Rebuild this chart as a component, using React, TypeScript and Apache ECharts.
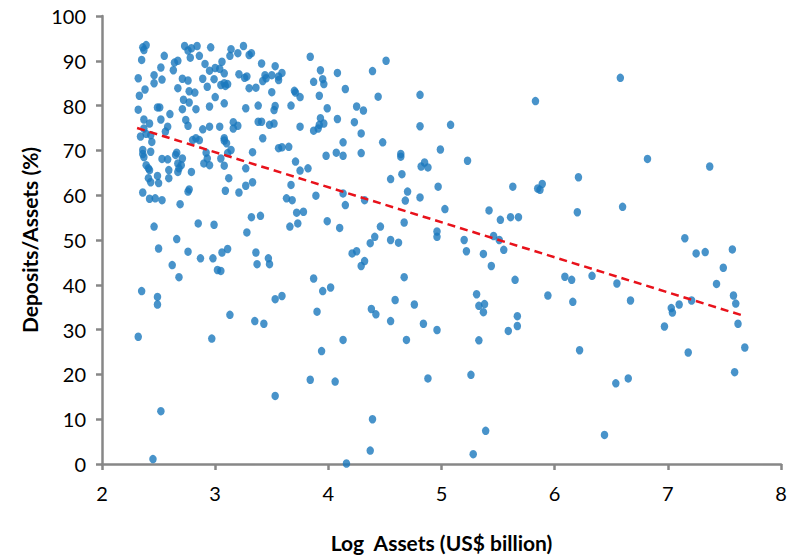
import React, { useEffect, useRef } from "react";
import * as echarts from "echarts";

const logAssets: number[] = [
  2.36, 2.39, 2.37, 2.55, 2.35, 2.73, 2.76, 2.79, 2.84, 2.78, 2.86, 2.96, 3.14, 3.13, 3.2, 2.64, 2.67, 2.91, 2.95, 3.0,
  3.06, 3.04, 3.08, 2.52, 2.46, 2.63, 2.32, 2.53, 2.71, 2.76, 2.89, 2.99, 3.05, 3.09, 3.08, 3.11, 2.46, 2.38, 2.33, 2.67,
  2.93, 2.77, 2.82, 2.72, 2.77, 3.0, 2.32, 2.49, 2.51, 2.71, 2.83, 2.95, 3.08, 2.6, 2.52, 2.37, 2.42, 2.74, 2.76, 3.04,
  3.16, 3.2, 2.58, 2.89, 2.95,
  2.37, 2.43, 2.34, 2.39, 2.44, 2.56, 3.16, 2.8, 2.83, 2.86, 3.08, 3.1, 3.08, 3.14, 3.11, 2.36, 2.36, 2.37, 2.43, 2.66,
  2.65, 2.53, 2.58, 2.39, 2.41, 2.42, 2.67, 2.71, 2.68, 2.7, 2.67, 2.59, 2.79, 2.92, 2.9, 2.93, 2.95, 3.05, 3.08, 2.41,
  2.43, 2.49, 2.5, 2.59, 3.12, 2.36, 2.76, 2.77, 3.09, 3.21, 2.42, 2.47, 2.53, 2.69, 2.46, 2.85, 2.99, 2.66,
  2.5, 2.76, 2.87, 2.98, 3.06, 3.11, 2.62, 3.02, 3.05, 2.68, 2.35, 2.49, 2.49, 3.13, 2.32, 2.97, 2.52, 2.45,
  3.25, 3.3, 3.32, 3.41, 3.53, 3.21, 3.26, 3.28, 3.44, 3.42, 3.45, 3.5, 3.56, 3.56, 3.59, 3.3, 3.36, 3.5, 3.7, 3.71,
  3.75, 3.67, 3.27, 3.38, 3.53, 3.52, 3.84, 3.93, 4.08, 3.87, 3.95, 3.96, 3.92, 4.15, 3.99, 4.39, 4.51, 4.44, 4.25, 4.31,
  4.08, 4.23, 4.29, 4.48, 3.38, 3.41, 3.48, 3.52, 3.75, 3.87, 3.91, 3.93, 3.96, 3.92, 3.42, 3.33, 3.56, 3.59, 3.65, 4.13,
  3.98, 4.07, 4.13, 4.29, 4.64, 4.64, 3.71,
  3.75, 3.82, 3.27, 3.27, 3.33, 3.67, 3.63, 3.68, 3.89, 4.13, 4.15, 4.32, 4.55, 4.65, 4.7, 4.68, 3.72, 3.78, 3.32, 3.4,
  3.66, 3.73, 3.99, 4.1, 3.28, 4.67, 4.46, 4.41, 4.37, 4.55, 4.62, 3.36, 3.37, 3.47, 3.48, 4.21, 4.25, 4.32, 4.29, 4.67,
  3.87, 3.95, 4.02, 3.53, 3.59, 4.59,
  4.38, 4.42, 3.35, 3.43, 3.9, 4.55, 4.13, 4.69, 3.94, 3.84, 4.06, 3.53, 4.39, 4.37, 4.16,
  4.81, 5.83, 4.81, 5.08, 4.99, 5.23, 4.82, 4.85, 4.88, 4.97, 4.81, 5.63, 5.85, 5.89, 5.87, 6.21, 5.03, 5.42, 5.52, 5.61,
  5.68, 6.2, 4.96, 4.96, 5.2, 5.46, 5.51,
  5.22, 5.37, 5.55, 5.44, 5.65, 6.09, 6.15, 6.33, 5.31, 5.94, 4.76, 5.33, 5.38, 5.37, 6.16, 4.84, 4.96, 5.67, 5.67, 5.59,
  5.33, 6.22, 4.88, 5.26, 5.39, 5.28,
  6.58, 6.82, 7.37, 6.6, 7.15, 7.25, 7.33, 7.57,
  7.49, 6.55, 6.67, 7.43, 7.58, 7.6, 7.03, 7.04, 7.1, 7.21, 6.97, 7.62, 7.68, 7.18, 7.59, 6.54, 6.65, 6.44,
];

const depositsPct: number[] = [
  93.0, 93.5, 92.4, 91.1, 90.2, 93.3, 92.3, 92.8, 93.3, 90.7, 91.1, 93.0, 92.6, 91.1, 91.7, 89.6, 90.0, 89.3, 87.8, 88.4,
  89.8, 88.2, 87.2, 88.5, 86.8, 87.9, 86.1, 85.8, 86.0, 85.6, 86.0, 85.9, 84.6, 84.4, 85.0, 84.8, 85.0, 83.6, 82.2, 83.9,
  84.2, 83.2, 82.9, 81.3, 80.7, 81.9, 79.1, 79.6, 79.6, 79.2, 79.2, 79.8, 80.5, 78.1, 76.9, 76.9, 76.0, 76.8, 75.5, 75.3,
  76.3, 75.5, 75.3, 74.7, 75.3,
  74.9, 73.4, 73.1, 73.7, 71.9, 74.2, 74.9, 72.3, 72.7, 72.3, 72.7, 71.6, 72.2, 70.1, 69.4, 70.1, 69.2, 68.5, 69.7, 69.5,
  69.0, 68.1, 68.0, 66.7, 66.0, 65.6, 67.1, 68.2, 66.0, 66.7, 65.2, 65.6, 65.2, 69.5, 67.1, 68.2, 66.7, 68.2, 66.6, 63.8,
  62.9, 64.3, 62.7, 63.8, 63.8, 60.6, 60.8, 61.3, 61.0, 60.6, 59.2, 59.3, 58.9, 58.0, 53.0, 53.7, 53.4, 50.2,
  48.1, 47.4, 45.9, 45.9, 47.2, 48.0, 44.4, 43.3, 43.1, 41.7, 38.6, 37.3, 35.6, 33.3, 28.4, 28.0, 11.8, 1.1,
  93.3, 91.3, 91.7, 89.4, 88.8, 87.0, 86.2, 86.5, 86.8, 85.5, 86.1, 86.8, 86.5, 85.7, 87.3, 83.9, 84.0, 83.0, 83.3, 82.9,
  81.9, 80.0, 79.4, 80.0, 79.9, 79.0, 90.9, 87.9, 87.3, 85.3, 85.9, 84.8, 82.2, 83.7, 79.4, 87.7, 90.0, 82.0, 79.8, 78.9,
  77.0, 76.3, 73.8, 71.8, 76.4, 76.4, 75.7, 76.0, 75.3, 74.4, 74.9, 77.2, 76.0, 75.7, 72.7, 69.6, 70.5, 70.7, 70.8, 71.8,
  68.8, 69.5, 68.8, 69.4, 69.2, 68.6, 67.5,
  65.5, 66.0, 66.0, 62.1, 62.9, 62.3, 59.3, 58.9, 59.9, 60.4, 57.8, 58.9, 63.6, 64.7, 60.8, 58.8, 56.1, 56.3, 55.1, 55.4,
  53.0, 53.7, 54.2, 52.7, 51.7, 53.9, 53.0, 50.7, 49.3, 50.0, 49.4, 47.2, 44.6, 45.9, 44.6, 47.0, 47.5, 45.3, 44.2, 41.7,
  41.4, 38.6, 39.4, 36.8, 37.5, 36.6,
  34.6, 33.4, 31.9, 31.3, 34.0, 31.9, 27.7, 27.7, 25.2, 18.8, 18.4, 15.2, 10.0, 3.0, 0.1,
  82.4, 81.0, 75.4, 75.7, 70.2, 67.7, 66.4, 67.3, 66.2, 61.9, 59.5, 61.9, 61.5, 62.5, 61.2, 64.0, 56.9, 56.6, 54.5, 55.1,
  55.1, 56.2, 51.9, 50.7, 50.0, 50.9, 50.0,
  47.5, 46.9, 47.8, 44.2, 41.1, 41.8, 41.1, 42.0, 37.9, 37.6, 35.6, 35.3, 35.7, 33.9, 36.2, 31.3, 29.9, 33.0, 30.8, 29.7,
  27.6, 25.4, 19.1, 19.9, 7.4, 2.2,
  86.2, 68.1, 66.4, 57.4, 50.4, 47.0, 47.3, 47.9,
  43.8, 40.3, 36.5, 40.2, 37.6, 35.8, 34.8, 33.8, 35.6, 36.5, 30.7, 31.3, 26.0, 24.9, 20.5, 18.0, 19.1, 6.5,
];

const trendX: number[] = [2.31, 7.68];
const trendY: number[] = [75.0, 33.0];

const xTicks: number[] = [2, 3, 4, 5, 6, 7, 8];
const yTicks: number[] = [0, 10, 20, 30, 40, 50, 60, 70, 80, 90, 100];

const FONT = "Lato";

export default function App() {
  const ref = useRef<HTMLDivElement>(null);

  useEffect(() => {
    if (!ref.current) return;
    const chart = echarts.init(ref.current, null, { renderer: "svg" });
    const points = logAssets.map((x, i) => [x, depositsPct[i]]);
    const trend = trendX.map((x, i) => [x, trendY[i]]);
    const axisLineStyle = { color: "#878787", width: 2.5 };
    chart.setOption({
      animation: false,
      backgroundColor: "#ffffff",
      grid: { left: 102, right: 12, top: 16, bottom: 95, containLabel: false },
      xAxis: {
        type: "value",
        min: xTicks[0],
        max: xTicks[xTicks.length - 1],
        interval: 1,
        name: "Log  Assets (US$ billion)",
        nameLocation: "middle",
        nameGap: 68,
        nameTextStyle: { fontFamily: FONT, fontSize: 21, fontWeight: "bold", color: "#000" },
        axisLine: { show: true, lineStyle: axisLineStyle },
        axisTick: { show: true, length: 6, lineStyle: axisLineStyle },
        axisLabel: { fontFamily: FONT, fontSize: 20, color: "#000", margin: 19 },
        splitLine: { show: false },
      },
      yAxis: {
        type: "value",
        min: yTicks[0],
        max: yTicks[yTicks.length - 1],
        interval: 10,
        name: "Deposits/Assets (%)",
        nameLocation: "middle",
        nameGap: 59,
        nameTextStyle: { fontFamily: FONT, fontSize: 21, fontWeight: "bold", color: "#000" },
        axisLine: { show: true, lineStyle: axisLineStyle },
        axisTick: { show: true, length: 6, lineStyle: axisLineStyle },
        axisLabel: { fontFamily: FONT, fontSize: 20, color: "#000", margin: 16 },
        splitLine: { show: false },
      },
      series: [
        {
          type: "scatter",
          data: points,
          symbol: "circle",
          symbolSize: [7.5, 8.5],
          itemStyle: { color: "#1a78bd" },
          z: 2,
        },
        {
          type: "line",
          data: trend,
          symbol: "none",
          lineStyle: { color: "#e8121b", width: 2.5, type: [8, 5] },
          z: 3,
        },
      ],
    });
    return () => chart.dispose();
  }, []);

  return (
    <div
      ref={ref}
      style={{ position: "fixed", left: 0, top: 0, width: 793, height: 559 }}
    />
  );
}
